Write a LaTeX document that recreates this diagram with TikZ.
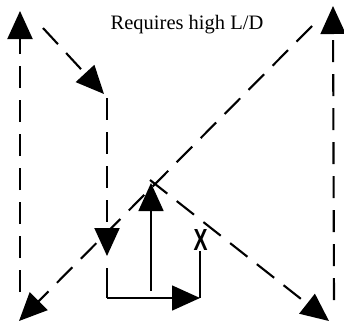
\documentclass[tikz,border=0pt]{standalone}
\usepackage{fontspec}
\setmainfont{Liberation Serif}
\newfontfamily\xfont{Liberation Sans}
\usetikzlibrary{arrows.meta}
\begin{document}
\begin{tikzpicture}[x=1pt,y=-1pt,
  dashline/.style={line width=2.1pt,dash pattern=on 22pt off 12pt},
  solidline/.style={line width=1.6pt},
  bigtip/.style={-{Triangle[length=28pt,width=25pt]}},
  lbl/.style={font=\fontsize{20.5}{22}\selectfont, inner sep=0pt}]
\useasboundingbox (0,0) rectangle (344,322);
% coordinates
\coordinate (l0) at (20,292);
\coordinate (l1) at (20,11);
\coordinate (d1s) at (43,28);
\coordinate (d1e) at (104,94);
\coordinate (v2s) at (107,98);
\coordinate (v2e) at (107,256);
\coordinate (s0) at (107,268);
\coordinate (s1) at (107,298);
\coordinate (s2) at (200,298);
\coordinate (s3) at (200,251);
\coordinate (m0) at (151,291);
\coordinate (m1) at (151,183);
\coordinate (d3s) at (150,180);
\coordinate (d3e) at (329,321);
\coordinate (r0) at (334,300);
\coordinate (r1) at (333,6);
\coordinate (d4s) at (312,26);
\coordinate (d4e) at (19,321);
\node[lbl] (title) at (187,25) {Requires high L/D};
\node[inner sep=0pt] (x) at (200.5,239.5) {\resizebox{14pt}{21pt}{\xfont\bfseries X}};
% paths
\draw[dashline,bigtip] (l0) -- (l1);
\draw[dashline,bigtip] (d1s) -- (d1e);
\draw[dashline,bigtip] (v2s) -- (v2e);
\draw[solidline] (s0) -- (s1);
\draw[solidline,bigtip] (s1) -- (s2);
\draw[solidline] (s2) -- (s3);
\draw[solidline,bigtip] (m0) -- (m1);
\draw[dashline,bigtip] (d3s) -- (d3e);
\draw[dashline,bigtip] (r0) -- (r1);
\draw[dashline,bigtip] (d4s) -- (d4e);
\end{tikzpicture}
\end{document}
